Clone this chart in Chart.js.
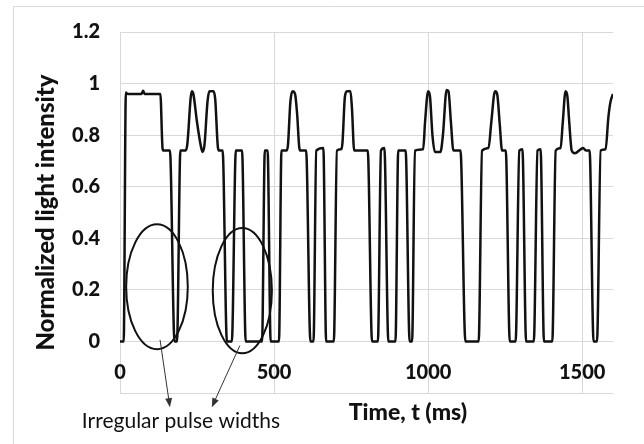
<!DOCTYPE html>
<html lang="en">
  <head>
    <meta charset="UTF-8" />
    <title>Normalized light intensity vs time</title>
    <script src="https://cdn.jsdelivr.net/npm/chart.js"></script>
    <style>
      body { margin: 0; background: #fff; }
      #chartContainer { position: relative; width: 644px; height: 444px; }
    </style>
  </head>
  <body>
    <div id="chartContainer"><canvas id="pulseChart"></canvas></div>

    <script>
      // waveform (time in ms, normalized intensity)
      const timeMs = [
        0, 12, 19, 25, 70, 75, 80, 131, 138, 141, 162, 177, 185, 196, 213, 218,
        233, 238, 250, 262, 268, 274, 284, 290, 303, 309, 318, 322, 333, 347, 363, 376,
        396, 408, 461, 470, 479, 489, 516, 524, 540, 545, 553, 560, 568, 575,
        582, 586, 604, 618, 628, 637, 660, 669, 694, 704, 718, 722, 730, 737,
        748, 753, 760, 804, 818, 837, 847, 858, 871, 894, 903, 927, 940, 948,
        957, 984, 990, 1000, 1006, 1014, 1022, 1040, 1048, 1060, 1066, 1074, 1082, 1105,
        1121, 1164, 1175, 1196, 1205, 1217, 1224, 1232, 1240, 1252, 1265, 1284, 1296, 1306,
        1318, 1343, 1355, 1365, 1376, 1403, 1414, 1430, 1437, 1446, 1452, 1458, 1466, 1476,
        1495, 1503, 1512, 1524, 1537, 1548, 1560, 1576, 1585, 1592, 1600
      ];
      const intensity = [
        0, 0, 0.965, 0.96, 0.96, 0.972, 0.96, 0.96, 0.75, 0.74, 0.74, 0, 0, 0.74, 0.74, 0.76,
        0.97, 0.96, 0.85, 0.76, 0.735, 0.76, 0.93, 0.97, 0.97, 0.94, 0.75, 0.74, 0.74, 0, 0, 0.74,
        0.74, 0, 0, 0.74, 0.74, 0, 0, 0.74, 0.74, 0.76, 0.93, 0.97, 0.96, 0.88,
        0.75, 0.74, 0.74, 0, 0, 0.74, 0.75, 0, 0, 0.74, 0.745, 0.77, 0.95, 0.97,
        0.97, 0.9, 0.74, 0.74, 0, 0, 0.74, 0.75, 0, 0, 0.74, 0.74, 0, 0,
        0.74, 0.745, 0.85, 0.97, 0.95, 0.8, 0.735, 0.735, 0.8, 0.975, 0.97, 0.85, 0.74, 0.74,
        0, 0, 0.74, 0.75, 0.85, 0.97, 0.96, 0.85, 0.74, 0.74, 0, 0, 0.74, 0.745,
        0, 0, 0.74, 0.745, 0, 0, 0.74, 0.75, 0.85, 0.97, 0.95, 0.85, 0.74, 0.73,
        0.745, 0.75, 0.74, 0.74, 0, 0, 0.74, 0.745, 0.87, 0.93, 0.96
      ];

      const xTicks = [0, 500, 1000, 1500];
      const yTicks = [-0.2, 0, 0.2, 0.4, 0.6, 0.8, 1, 1.2];

      // circled regions and arrows, in data units (ms, intensity)
      const ellipses = [
        { x: 120, y: 0.212, rx: 100, ry: 0.242 },
        { x: 397, y: 0.197, rx: 96, ry: 0.243 }
      ];
      const arrows = [
        { x1: 130, y1: 0.006, x2: 162, y2: -0.255 },
        { x1: 389, y1: -0.016, x2: 298, y2: -0.255 }
      ];

      const gridColor = "#d9d9d9";
      const fontName = "Lato, 'Open Sans', sans-serif";

      const points = timeMs.map((t, i) => ({ x: t, y: intensity[i] }));

      const notesPlugin = {
        id: "notes",
        beforeDraw(chart) {
          const ctx = chart.ctx;
          ctx.save();
          ctx.strokeStyle = gridColor;
          ctx.lineWidth = 1;
          ctx.beginPath();
          ctx.moveTo(13.5, 444);
          ctx.lineTo(13.5, 6.5);
          ctx.lineTo(644, 6.5);
          ctx.stroke();
          ctx.restore();
        },
        afterDraw(chart) {
          const { ctx, scales: { x, y } } = chart;
          ctx.save();

          // x tick labels sit inside the plot, between 0 and -0.2
          ctx.fillStyle = "#111";
          ctx.textAlign = "center";
          ctx.textBaseline = "middle";
          ctx.font = "900 20px " + fontName;
          xTicks.forEach((v) => {
            ctx.fillText(String(v), x.getPixelForValue(v), y.getPixelForValue(-0.12));
          });

          ctx.strokeStyle = "#111";
          ctx.lineWidth = 2;
          ellipses.forEach((e) => {
            const cx = x.getPixelForValue(e.x);
            const cy = y.getPixelForValue(e.y);
            const rx = x.getPixelForValue(e.x + e.rx) - cx;
            const ry = cy - y.getPixelForValue(e.y + e.ry);
            ctx.beginPath();
            ctx.ellipse(cx, cy, rx, ry, 0, 0, Math.PI * 2);
            ctx.stroke();
          });

          ctx.strokeStyle = "#333";
          ctx.fillStyle = "#333";
          ctx.lineWidth = 1;
          arrows.forEach((a) => {
            const px1 = x.getPixelForValue(a.x1), py1 = y.getPixelForValue(a.y1);
            const px2 = x.getPixelForValue(a.x2), py2 = y.getPixelForValue(a.y2);
            const ang = Math.atan2(py2 - py1, px2 - px1);
            ctx.beginPath();
            ctx.moveTo(px1, py1);
            ctx.lineTo(px2 - 6 * Math.cos(ang), py2 - 6 * Math.sin(ang));
            ctx.stroke();
            ctx.beginPath();
            ctx.moveTo(px2, py2);
            ctx.lineTo(px2 - 9 * Math.cos(ang) + 3.5 * Math.sin(ang), py2 - 9 * Math.sin(ang) - 3.5 * Math.cos(ang));
            ctx.lineTo(px2 - 9 * Math.cos(ang) - 3.5 * Math.sin(ang), py2 - 9 * Math.sin(ang) + 3.5 * Math.cos(ang));
            ctx.closePath();
            ctx.fill();
          });

          ctx.fillStyle = "#111";
          ctx.font = "900 23px " + fontName;
          ctx.fillText("Time, t (ms)", 408, 413);
          ctx.font = "21px " + fontName;
          ctx.fillText("Irregular pulse widths", 181, 421);
          ctx.restore();
        }
      };

      const ctx = document.getElementById("pulseChart").getContext("2d");
      new Chart(ctx, {
        type: "line",
        data: {
          datasets: [
            {
              data: points,
              borderColor: "#111",
              borderWidth: 2.5,
              pointRadius: 0,
              cubicInterpolationMode: "monotone",
              fill: false
            }
          ]
        },
        options: {
          responsive: true,
          maintainAspectRatio: false,
          animation: false,
          layout: { padding: { left: 14, top: 28, right: 31, bottom: 0 } },
          plugins: { legend: { display: false }, tooltip: { enabled: false } },
          scales: {
            x: {
              type: "linear",
              min: 0,
              max: 1600,
              afterBuildTicks: (axis) => { axis.ticks = xTicks.map((v) => ({ value: v })); },
              afterFit: (scale) => { scale.height = 51; },
              grid: { color: gridColor, drawTicks: false },
              border: { display: false },
              ticks: { display: false }
            },
            y: {
              min: -0.2,
              max: 1.2,
              afterBuildTicks: (axis) => { axis.ticks = yTicks.map((v) => ({ value: v })); },
              afterFit: (scale) => { scale.width = 106; },
              grid: { color: gridColor, drawTicks: false },
              border: { display: false },
              ticks: {
                padding: 20,
                color: "#111",
                font: { family: fontName, size: 20, weight: 900 },
                callback: (v) => (v < 0 ? "" : String(+v.toFixed(1)))
              },
              title: {
                display: true,
                text: "Normalized light intensity",
                color: "#111",
                padding: { top: 18, bottom: 0 },
                font: { family: fontName, size: 24, weight: 900 }
              }
            }
          }
        },
        plugins: [notesPlugin]
      });
    </script>
  </body>
</html>
